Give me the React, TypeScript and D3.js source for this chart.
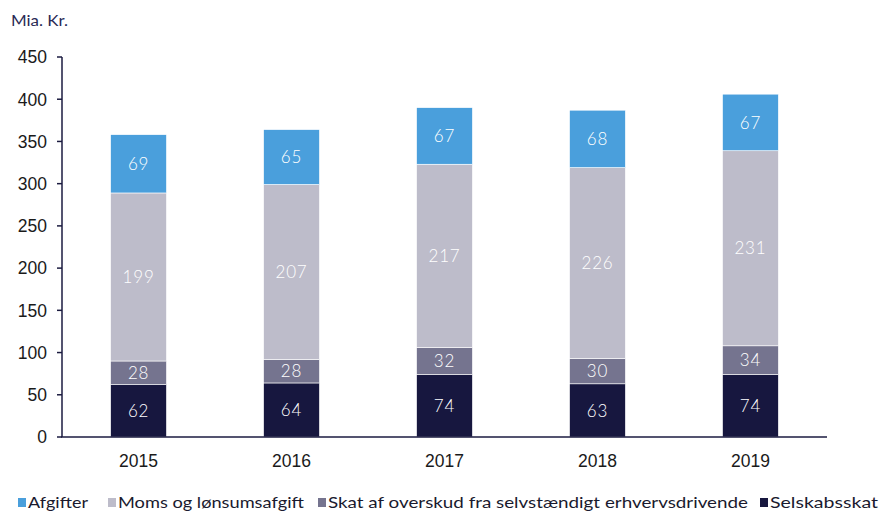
import React from "react";
import * as d3 from "d3";

const years = ["2015", "2016", "2017", "2018", "2019"];
const selskabsskat = [62, 64, 74, 63, 74];
const skatSelvst = [28, 28, 32, 30, 34];
const moms = [199, 207, 217, 226, 231];
const afgifter = [69, 65, 67, 68, 67];
const yTicks = [0, 50, 100, 150, 200, 250, 300, 350, 400, 450];

const seriesNames = ["Selskabsskat", "Skat af overskud fra selvstændigt erhvervsdrivende", "Moms og lønsumsafgift", "Afgifter"];
const seriesValues = [selskabsskat, skatSelvst, moms, afgifter];
const colors = ["#17173f", "#75748f", "#bdbcca", "#4a9fdc"];
const legendOrder = [3, 2, 1, 0];

const W = 880, H = 513;
const axisColor = "#1b1b40";
const font = "Lato, 'Open Sans', sans-serif";
const tickFont = "'Liberation Sans', Arial, sans-serif";

export default function App() {
  const x = d3.scaleBand().domain(years).range([62, 827]).paddingInner(0.635).paddingOuter(0.318);
  const y = d3.scaleLinear().domain([0, 450]).range([437, 57]);
  const rows = years.map((yr, i) => {
    const o: any = { year: yr };
    seriesNames.forEach((n, s) => (o[n] = seriesValues[s][i]));
    return o;
  });
  const stack = d3.stack().keys(seriesNames)(rows as any);
  const legendX = [18, 108, 318, 760];
  const legendW = [60, 186, 420, 108];

  return (
    <svg width={W} height={H} style={{ position: "absolute", left: 0, top: 0, background: "#fff" }}>
      <text x={11} y={26} fontFamily={font} fontSize={16} fill="#2a2a55" textLength={57} lengthAdjust="spacingAndGlyphs">Mia. Kr.</text>
      {yTicks.map((t) => (
        <g key={t}>
          <line x1={57} x2={62} y1={y(t)} y2={y(t)} stroke={axisColor} strokeWidth={1.5} />
          <text x={47} y={y(t)} dy="0.36em" textAnchor="end" fontFamily={tickFont} fontSize={17.5} fill="#1a1a1a">{t}</text>
        </g>
      ))}
      {stack.map((layer, s) => (
        <g key={s}>
          {layer.map((d: any, i: number) => {
            const x0 = x(years[i])!;
            const yTop = y(d[1]);
            const yBot = y(d[0]);
            return (
              <g key={i}>
                <rect x={x0} y={yTop} width={x.bandwidth()} height={yBot - yTop} fill={colors[s]} stroke="#ffffff" strokeWidth={0.6} />
                <text x={x0 + x.bandwidth() / 2} y={(yTop + yBot) / 2} dy="0.36em" textAnchor="middle" fontFamily={font} fontWeight={300} fontSize={17} fill="#ffffff" letterSpacing={0.8}>
                  {seriesValues[s][i]}
                </text>
              </g>
            );
          })}
        </g>
      ))}
      <line x1={62} x2={62} y1={57} y2={437} stroke={axisColor} strokeWidth={1.5} />
      <line x1={61} x2={827} y1={437} y2={437} stroke={axisColor} strokeWidth={1.5} />
      {years.map((yr) => (
        <text key={yr} x={x(yr)! + x.bandwidth() / 2} y={467} textAnchor="middle" fontFamily={tickFont} fontSize={17.5} fill="#1a1a1a">{yr}</text>
      ))}
      {legendOrder.map((s, k) => (
        <g key={s}>
          <rect x={legendX[k]} y={498} width={8} height={9} fill={colors[s]} />
          <text x={legendX[k] + 10} y={508} fontFamily={font} fontSize={16} fill="#1a1a2e" textLength={legendW[k]} lengthAdjust="spacingAndGlyphs">{seriesNames[s]}</text>
        </g>
      ))}
    </svg>
  );
}
